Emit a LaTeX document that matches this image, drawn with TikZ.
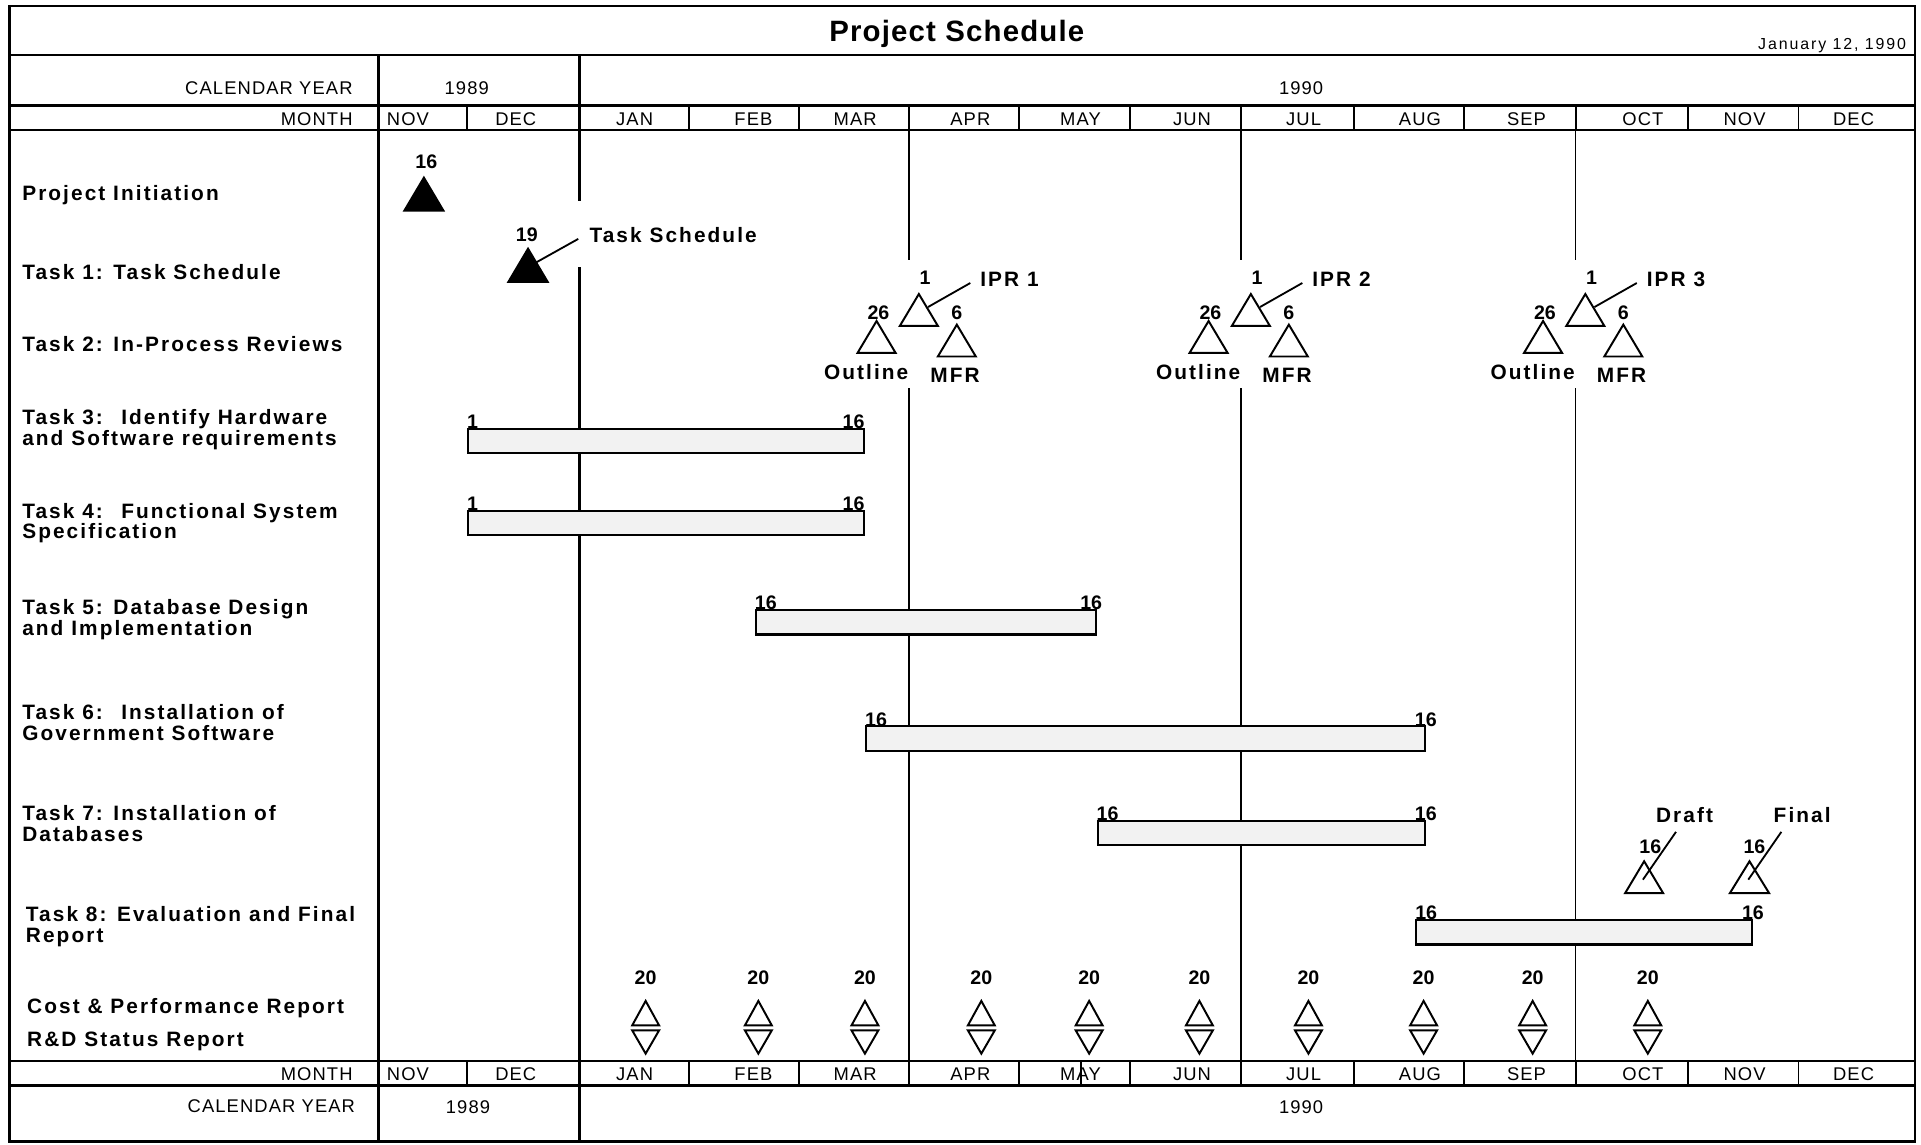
\documentclass[tikz,border=0pt]{standalone}
\usepackage{fontspec}
\setmainfont{Liberation Sans}
\newfontfamily\hfont[LetterSpace=6]{Liberation Sans}
\newfontfamily\lfont[LetterSpace=10]{Liberation Sans}
\newfontfamily\tfont[LetterSpace=4]{Liberation Sans}
\newfontfamily\dfont[LetterSpace=12]{Liberation Sans}
\newcommand\Tri[5]{\draw[#1] ({#2-#4},#3) -- ({#2},{#3-#5}) -- ({#2+#4},#3) -- cycle;}
\newcommand\IPRgroup[3]{%
  \Tri{tri}{#1+8}{266}{15.5}{26}
  \node[num] (ipr#3n) at ({#1+13},227) {1};
  \node[mlbl,anchor=west] (ipr#3) at ({#1+58},228) {IPR #2};
  \coordinate (ipr#3in) at ({#1+15.5},250.6);
  \draw[thinline] (ipr#3in) -- ([xshift=-8pt,yshift=-3pt]ipr#3.west);
  \Tri{tri}{#1-26.5}{288}{15.5}{26}
  \node[num] (out#3n) at ({#1-25},255) {26};
  \node[mlbl] (out#3) at ({#1-35},304) {Outline};
  \Tri{tri}{#1+39}{291}{15.5}{26}
  \node[num] (mfr#3n) at ({#1+39},255) {6};
  \node[mlbl] (mfr#3) at ({#1+37.5},306) {MFR};
}
\begin{document}
\begin{tikzpicture}[x=1pt,y=-1pt,
  frameline/.style={line width=2.2pt},
  heavy/.style={line width=3pt},
  thinline/.style={line width=1.5pt},
  divline/.style={line width=1.6pt},
  tri/.style={line width=1.6pt,line join=miter},
  taskbar/.style={draw,line width=1.8pt,fill=black!5,inner sep=0,minimum height=20pt,anchor=north west},
  hdr/.style={font=\hfont\fontsize{15}{17}\selectfont,inner sep=0},
  lbl/.style={font=\lfont\bfseries\fontsize{17}{17}\selectfont,align=left,anchor=west,inner sep=0},
  mlbl/.style={font=\lfont\bfseries\fontsize{17}{18}\selectfont,inner sep=0},
  num/.style={font=\bfseries\fontsize{16}{16}\selectfont,inner sep=0},
]
\useasboundingbox (0,0) rectangle (1568,934);
\fill[white] (0,0) rectangle (1568,934);

% frame and header grid
\draw[frameline] (8,5) rectangle (1563,932);
\foreach \yy in {45,86,106,866,886} \draw[frameline] (8,\yy) -- (1563,\yy);
\draw[heavy] (309,45) -- (309,932);
\draw[heavy] (473,45) -- (473,164);
\draw[heavy] (473,218) -- (473,932);
\foreach \xx in {381,562,652,742,832,922,1013,1105,1195,1286,1378,1468}{
  \draw[divline] (\xx,86) -- (\xx,106);
  \draw[divline] (\xx,866) -- (\xx,886);
}
\draw[divline] (882,866) -- (882,886);
\foreach \xx in {742,1013,1286}{
  \draw[thinline] (\xx,106) -- (\xx,212);
  \draw[thinline] (\xx,317) -- (\xx,866);
}

% header texts
\node[font=\tfont\bfseries\fontsize{24}{26}\selectfont,inner sep=0] (title) at (781,28) {Project Schedule};
\node[font=\dfont\fontsize{13}{15}\selectfont,inner sep=0,anchor=east] (date) at (1556,37) {January 12, 1990};
\node[hdr,anchor=east] (cyt) at (288,72) {CALENDAR YEAR};
\node[hdr] (y89t) at (381,72) {1989};
\node[hdr] (y90t) at (1062,72) {1990};
\node[hdr,anchor=east] (mot) at (288,97) {MONTH};
\node[hdr,anchor=east] (mob) at (288,877) {MONTH};
\node[hdr,anchor=east] (cyb) at (290,903) {CALENDAR YEAR};
\node[hdr] (y89b) at (382,904) {1989};
\node[hdr] (y90b) at (1062,904) {1990};
\foreach \m/\x [count=\i] in {NOV/333,DEC/421,JAN/518,FEB/615,MAR/698,APR/792,MAY/882,JUN/973,JUL/1064,AUG/1159,SEP/1246,OCT/1341,NOV/1424,DEC/1513}{
  \node[hdr] (mt\i) at (\x,97) {\m};
  \node[hdr] (mb\i) at (\x,877) {\m};
}

% row labels
\node[lbl] (l0) at (18,159) {Project Initiation};
\node[lbl] (l1) at (18,222) {Task 1: Task Schedule};
\node[lbl] (l2) at (18,281) {Task 2: In-Process Reviews};
\node[lbl] (l3) at (18,351) {Task 3:~ Identify Hardware\\and Software requirements};
\node[lbl] (l4) at (18,427) {Task 4:~ Functional System\\Specification};
\node[lbl] (l5) at (18,506) {Task 5: Database Design\\and Implementation};
\node[lbl] (l6) at (18,590) {Task 6:~ Installation of\\Government Software};
\node[lbl] (l7) at (18,672) {Task 7: Installation of\\Databases};
\node[lbl] (l8) at (21,756) {Task 8: Evaluation and Final\\Report};
\node[lbl] (lc) at (22,823) {Cost \& Performance Report};
\node[lbl] (lr) at (22,850) {R\&D Status Report};

% milestones
\Tri{fill=black,tri}{346}{172}{16}{27}
\node[num] (m0) at (348,132) {16};
\Tri{fill=black,tri}{431}{230}{16}{27}
\node[num] (m1) at (430,192) {19};
\node[mlbl,anchor=west] (ts) at (481,192) {Task Schedule};
\coordinate (t1in) at (438,214);
\draw[thinline] (t1in) -- ([xshift=-9pt,yshift=-3pt]ts.west);

\IPRgroup{742}{1}{a}
\IPRgroup{1013}{2}{b}
\IPRgroup{1286}{3}{c}

% bars
\node[taskbar,minimum width=323pt] (b3) at (381,349) {};
\node[num,anchor=south west] at ([yshift=-1pt]b3.north west) {1};
\node[num,anchor=south east] at ([yshift=-1pt]b3.north east) {16};
\node[taskbar,minimum width=323pt] (b4) at (381,416) {};
\node[num,anchor=south west] at ([yshift=-1pt]b4.north west) {1};
\node[num,anchor=south east] at ([yshift=-1pt]b4.north east) {16};
\node[taskbar,minimum width=278pt] (b5) at (616,497) {};
\node[num,anchor=south west] at ([yshift=-1pt]b5.north west) {16};
\node[num,anchor=south east] at ([xshift=4pt,yshift=-1pt]b5.north east) {16};
\node[taskbar,minimum width=456pt] (b6) at (706,592) {};
\node[num,anchor=south west] at ([yshift=-1pt]b6.north west) {16};
\node[num,anchor=south] at ([yshift=-1pt]b6.north east) {16};
\node[taskbar,minimum width=267pt] (b7) at (895,669) {};
\node[num,anchor=south west] at ([yshift=-1pt]b7.north west) {16};
\node[num,anchor=south] at ([yshift=-1pt]b7.north east) {16};
\node[taskbar,minimum width=274pt] (b8) at (1155,750) {};
\node[num,anchor=south west] at ([yshift=-1pt]b8.north west) {16};
\node[num,anchor=south] at ([yshift=-1pt]b8.north east) {16};

% draft / final
\Tri{tri}{1342}{729}{15.5}{26}
\node[num] (dn) at (1347,691) {16};
\node[mlbl] (dr) at (1375,665) {Draft};
\coordinate (drin) at (1341,718);
\draw[thinline] (drin) -- ([xshift=-7pt,yshift=-14pt]dr.center);
\Tri{tri}{1428}{729}{16}{26}
\node[num] (fn) at (1432,691) {16};
\node[mlbl] (fi) at (1471,665) {Final};
\coordinate (fiin) at (1427,718);
\draw[thinline] (fiin) -- ([xshift=-17pt,yshift=-14pt]fi.center);

% cost & performance / R&D status
\foreach \x [count=\i] in {527,619,706,801,889,979,1068,1162,1251,1345}{
  \node[num] (c\i) at (\x,798) {20};
  \Tri{tri}{\x}{837}{11}{20}
  \Tri{tri}{\x}{841}{11}{-19}
}
\end{tikzpicture}
\end{document}
